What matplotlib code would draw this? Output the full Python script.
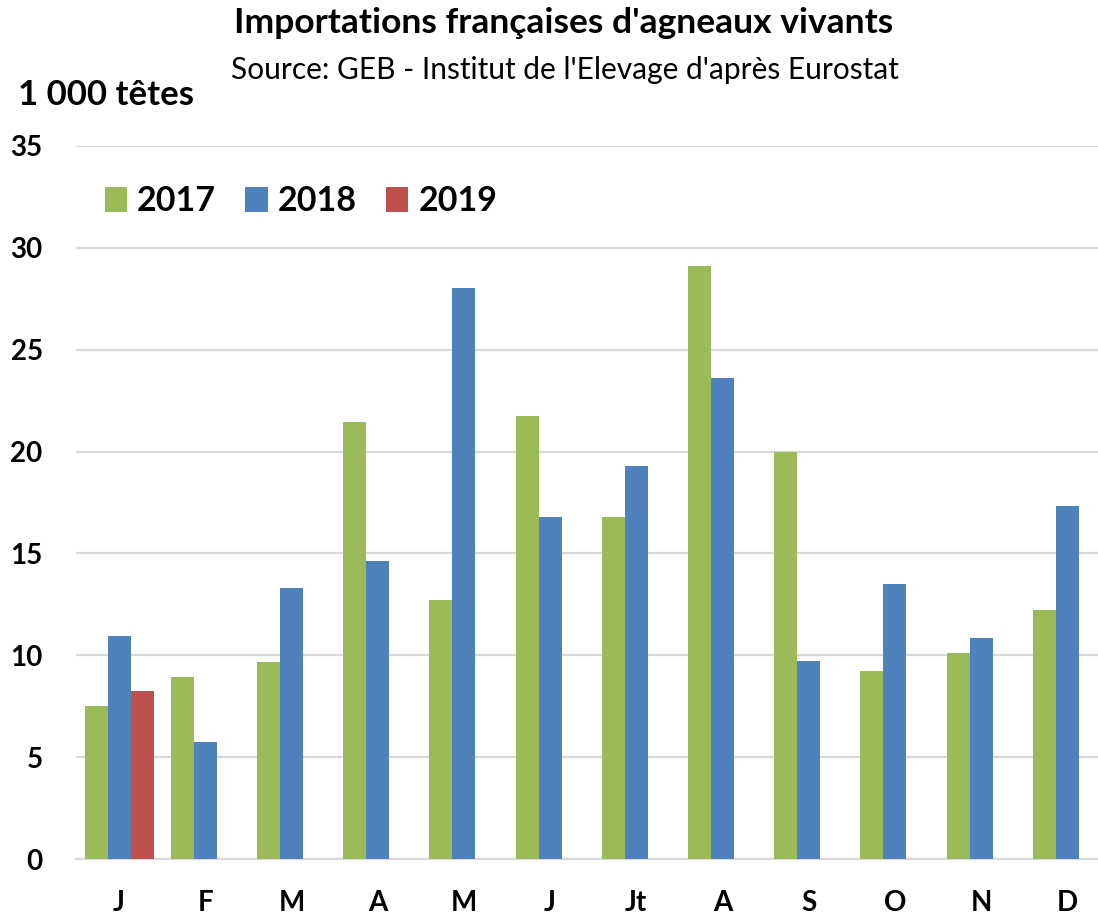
"""Importations françaises d'agneaux vivants - clustered monthly bars."""

import matplotlib

matplotlib.use("Agg")
import matplotlib.pyplot as plt
import numpy as np
from matplotlib.patches import Patch

plt.rcParams["font.family"] = ["Lato", "DejaVu Sans"]

MONTHS = ["J", "F", "M", "A", "M", "J", "Jt", "A", "S", "O", "N", "D"]
VALUES_2017 = [7.5, 8.95, 9.7, 21.45, 12.7, 21.75, 16.8, 29.1, 20.0, 9.25, 10.1, 12.25]
VALUES_2018 = [10.95, 5.75, 13.3, 14.65, 28.0, 16.8, 19.3, 23.6, 9.75, 13.5, 10.85, 17.35]
VALUES_2019 = [8.25]

SERIES = [
    ("2017", VALUES_2017, "#9BBB59"),
    ("2018", VALUES_2018, "#4F81BD"),
    ("2019", VALUES_2019, "#C0504D"),
]

W, H = 1098, 917
fig = plt.figure(figsize=(W / 100, H / 100), dpi=100)
ax = fig.add_axes([76 / W, (H - 859.3) / H, 1022 / W, (859.3 - 145.7) / H])

bar_w = 0.267
x = np.arange(len(MONTHS))
for k, (label, vals, color) in enumerate(SERIES):
    pos = x[: len(vals)] + (k - 1) * bar_w
    ax.bar(pos, vals, width=bar_w, color=color, edgecolor="none", zorder=3)

ax.set_ylim(0, 35)
ax.set_xlim(-0.5, -0.5 + 1022 / 86.2)
ax.set_yticks(range(0, 36, 5))
ax.set_xticks(x)
ax.set_xticklabels(MONTHS)
ax.grid(axis="y", color="#d9d9d9", linewidth=1.6, zorder=0)
ax.set_axisbelow(True)
for side in ["top", "right", "left"]:
    ax.spines[side].set_visible(False)
ax.spines["bottom"].set_color("#d9d9d9")
ax.spines["bottom"].set_linewidth(1.6)
ax.tick_params(axis="both", length=0)
ax.tick_params(axis="y", pad=24, labelsize=20)
ax.tick_params(axis="x", pad=22, labelsize=20)
for lab in ax.get_xticklabels() + ax.get_yticklabels():
    lab.set_fontweight("bold")

handles = [Patch(facecolor=c, edgecolor="none", label=l) for l, _, c in SERIES]
ax.legend(
    handles=handles,
    loc="center left",
    bbox_to_anchor=(-0.002, 0.922),
    ncol=3,
    frameon=False,
    prop={"weight": "bold", "size": 24.5},
    handlelength=0.66,
    handleheight=0.72,
    handletextpad=0.3,
    columnspacing=0.85,
)

fig.text(563.7 / W, 1 - 33 / H, "Importations françaises d'agneaux vivants",
         ha="center", va="baseline", fontsize=25.5, fontweight="bold")
fig.text(565 / W, 1 - 79 / H, "Source: GEB - Institut de l'Elevage d'après Eurostat",
         ha="center", va="baseline", fontsize=21.5)
fig.text(18 / W, 1 - 105 / H, "1 000 têtes",
         ha="left", va="baseline", fontsize=25, fontweight="bold")

fig.savefig("out.png", dpi=100)
plt.close(fig)
